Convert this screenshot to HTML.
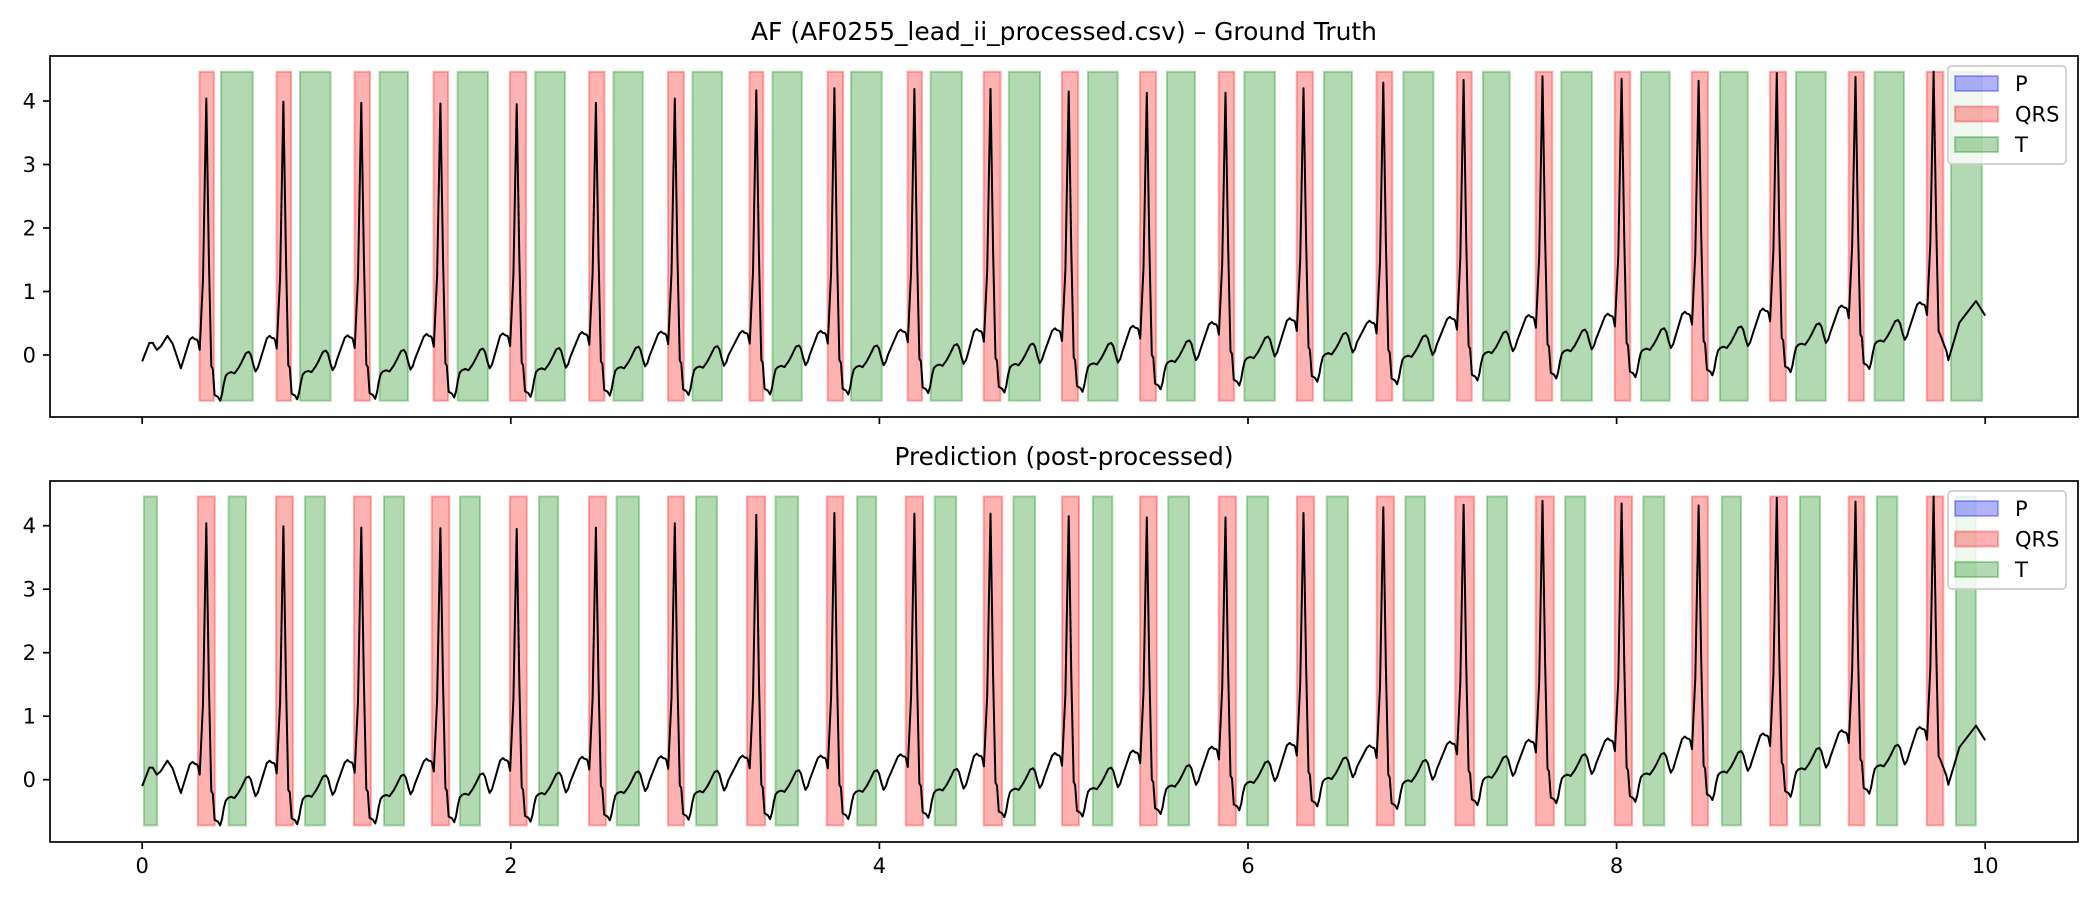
<!DOCTYPE html>
<html><head><meta charset="utf-8"><style>
html,body{margin:0;padding:0;background:#fff;}
svg{display:block;font-family:"DejaVu Sans","Liberation Sans",sans-serif;}
</style></head><body>
<svg id="fig" width="2100" height="900" viewBox="0 0 2100 900" xmlns="http://www.w3.org/2000/svg">
<rect width="2100" height="900" fill="#fff"/>
</svg>
<script>
// ---- data ----
const rTimes = [0.348,0.766,1.189,1.618,2.032,2.462,2.890,3.332,3.756,4.190,4.603,5.027,5.451,5.878,6.301,6.734,7.170,7.598,8.027,8.445,8.869,9.296,9.720];
const rAmps = [4.04,3.99,3.97,3.96,3.95,3.97,4.04,4.17,4.20,4.19,4.19,4.15,4.13,4.13,4.20,4.29,4.33,4.39,4.35,4.32,4.44,4.38,4.46];
const beatOffsets = [0,0.02,0.03,0.05,0.06,0.08,0.09,0.1,0.1,0.12,0.13,0.14,0.18,0.24,0.3,0.26,0.32,0.35,0.37,0.4,0.45,0.5,0.55];
const tmplDt = [-0.09,-0.075,-0.063,-0.05,-0.045,-0.036,-0.018,0,0.014,0.027,0.035,0.045,0.063,0.075,0.085,0.095,0.105,0.117,0.135,0.153,0.175,0.19,0.20,0.215,0.231,0.242,0.255,0.267,0.28,0.29];
const tmplV = [0.24,0.28,0.25,0.24,0.21,0.08,1.2,null,1.5,-0.18,-0.22,-0.63,-0.66,-0.72,-0.62,-0.45,-0.33,-0.29,-0.27,-0.29,-0.2,-0.12,-0.06,0.03,0.05,0.0,-0.15,-0.26,-0.2,-0.1];
const leadT = [0,0.039,0.057,0.079,0.10,0.137,0.165,0.21];
const leadV = [-0.1,0.19,0.19,0.08,0.13,0.30,0.18,-0.21];
const tailT = [9.79,9.80,9.86,9.95,10.0];
const tailV = [0.06,-0.08,0.51,0.85,0.62];

const gtQrsStart = [0.311,0.729,1.152,1.581,1.995,2.425,2.853,3.295,3.719,4.153,4.566,4.990,5.414,5.841,6.264,6.697,7.133,7.561,7.990,8.408,8.832,9.259,9.683];
const gtQrsEnd = [0.389,0.808,1.236,1.660,2.083,2.508,2.939,3.370,3.803,4.231,4.657,5.078,5.501,5.925,6.352,6.783,7.214,7.651,8.074,8.496,8.919,9.342,9.773];
const gtTStart = [0.428,0.856,1.288,1.711,2.133,2.557,2.986,3.420,3.846,4.278,4.702,5.131,5.560,5.980,6.412,6.843,7.275,7.700,8.132,8.561,8.973,9.400,9.814];
const gtTEnd = [0.600,1.022,1.442,1.876,2.294,2.716,3.146,3.579,4.013,4.448,4.872,5.293,5.712,6.146,6.564,7.006,7.420,7.866,8.288,8.712,9.135,9.559,9.982];

const prQrsStart = [0.302,0.726,1.149,1.571,1.995,2.424,2.853,3.281,3.714,4.143,4.566,4.991,5.414,5.841,6.265,6.698,7.125,7.561,7.990,8.409,8.833,9.259,9.683];
const prQrsEnd = [0.394,0.818,1.241,1.666,2.087,2.516,2.940,3.380,3.804,4.237,4.666,5.083,5.506,5.935,6.359,6.792,7.227,7.660,8.084,8.496,8.925,9.344,9.773];
const prTStart = [0.009,0.469,0.883,1.312,1.724,2.153,2.574,3.005,3.436,3.879,4.300,4.727,5.158,5.567,5.994,6.427,6.854,7.297,7.721,8.145,8.571,8.995,9.412,9.841];
const prTEnd = [0.081,0.563,0.992,1.421,1.833,2.257,2.696,3.119,3.559,3.983,4.417,4.845,5.264,5.681,6.110,6.543,6.961,7.406,7.830,8.259,8.675,9.104,9.523,9.949];

const xTicks = [0,2,4,6,8,10];
const yTicks = [0,1,2,3,4];
const bandLo = -0.72, bandHi = 4.46;

// ---- drawing ----
const NS = "http://www.w3.org/2000/svg";
const svg = document.getElementById('fig');
function mk(tag, attrs, parent){ const e=document.createElementNS(NS,tag); for(const k in attrs) e.setAttribute(k,attrs[k]); (parent||svg).appendChild(e); return e; }

const sigT=[], sigV=[];
for(let i=0;i<leadT.length;i++){ sigT.push(leadT[i]); sigV.push(leadV[i]); }
for(let b=0;b<rTimes.length;b++){
  const last = b===rTimes.length-1;
  for(let j=0;j<tmplDt.length;j++){
    if(last && tmplDt[j]>0.036) break;
    sigT.push(rTimes[b]+tmplDt[j]);
    sigV.push(tmplV[j]===null ? rAmps[b] : tmplV[j]+beatOffsets[b]);
  }
}
for(let i=0;i<tailT.length;i++){ sigT.push(tailT[i]); sigV.push(tailV[i]); }

const X0=50, X1=2078;
const xs = t => 142.2 + t*184.3;
function panel(top, bottom, y0, title, titleLen, qs, qe, ts, te, showXLabels, prefix){
  const ys = v => y0 - v*63.5;
  const g = mk('g',{});
  
  
  const bands = mk('g',{},g);
  
  
  for(let i=0;i<qs.length;i++){
    const r = mk('rect',{x:xs(qs[i]),y:ys(bandHi),width:xs(qe[i])-xs(qs[i]),height:ys(bandLo)-ys(bandHi),fill:'rgba(255,0,0,0.3)',stroke:'rgba(255,0,0,0.3)','stroke-width':2},bands);
    
    
  }
  for(let i=0;i<ts.length;i++){
    const r = mk('rect',{x:xs(ts[i]),y:ys(bandHi),width:xs(te[i])-xs(ts[i]),height:ys(bandLo)-ys(bandHi),fill:'rgba(0,128,0,0.3)',stroke:'rgba(0,128,0,0.3)','stroke-width':2},bands);
    
    
  }
  let d='';
  for(let i=0;i<sigT.length;i++) d += (i?'L':'M')+xs(sigT[i]).toFixed(1)+' '+ys(sigV[i]).toFixed(1);
  const line = mk('path',{d:d,fill:'none',stroke:'#000','stroke-width':2,'stroke-linejoin':'round'},g);
  
  
  const frame = mk('rect',{x:X0,y:top,width:X1-X0,height:bottom-top,fill:'none',stroke:'#000','stroke-width':1.7},g);
  
  
  for(const v of yTicks){
    const y=ys(v);
    mk('line',{x1:X0-7,x2:X0,y1:y,y2:y,stroke:'#000','stroke-width':1.7},g);
    const tx = mk('text',{x:X0-14,y:y+7.5,'text-anchor':'end','font-size':21,fill:'#000'},g);
    tx.textContent = v;
    
    
  }
  for(const v of xTicks){
    const x=xs(v);
    mk('line',{x1:x,x2:x,y1:bottom,y2:bottom+7,stroke:'#000','stroke-width':1.7},g);
    if(showXLabels){
      const tx = mk('text',{x:x,y:bottom+31,'text-anchor':'middle','font-size':21,fill:'#000'},g);
      tx.textContent = v;
      
      
    }
  }
  const tt = mk('text',{x:1064,y:top-16,'text-anchor':'middle','font-size':25,fill:'#000',textLength:titleLen,lengthAdjust:'spacingAndGlyphs'},g);
  tt.textContent = title;
  
  
  const lg = mk('g',{},g);
  
  
  const ly = top+10;
  mk('rect',{x:1948,y:ly,width:118,height:98,rx:4,fill:'rgba(255,255,255,0.8)',stroke:'#cccccc','stroke-width':1.7},lg);
  const items=[['P','rgba(0,0,255,0.3)'],['QRS','rgba(255,0,0,0.3)'],['T','rgba(0,128,0,0.3)']];
  items.forEach((it,i)=>{
    const yy = ly+10+i*30.5;
    const p = mk('rect',{x:1955,y:yy,width:43,height:15,fill:it[1],stroke:it[1],'stroke-width':2},lg);
    
    
    const tx = mk('text',{x:2015,y:yy+15,'font-size':21,fill:'#000'},lg);
    tx.textContent = it[0];
    
    
  });
}
panel(56, 417, 355, 'AF (AF0255_lead_ii_processed.csv) \u2013 Ground Truth', 626, gtQrsStart, gtQrsEnd, gtTStart, gtTEnd, false, 'ground-truth');
panel(481, 842, 779.7, 'Prediction (post-processed)', 339, prQrsStart, prQrsEnd, prTStart, prTEnd, true, 'prediction');
</script>
</body></html>
